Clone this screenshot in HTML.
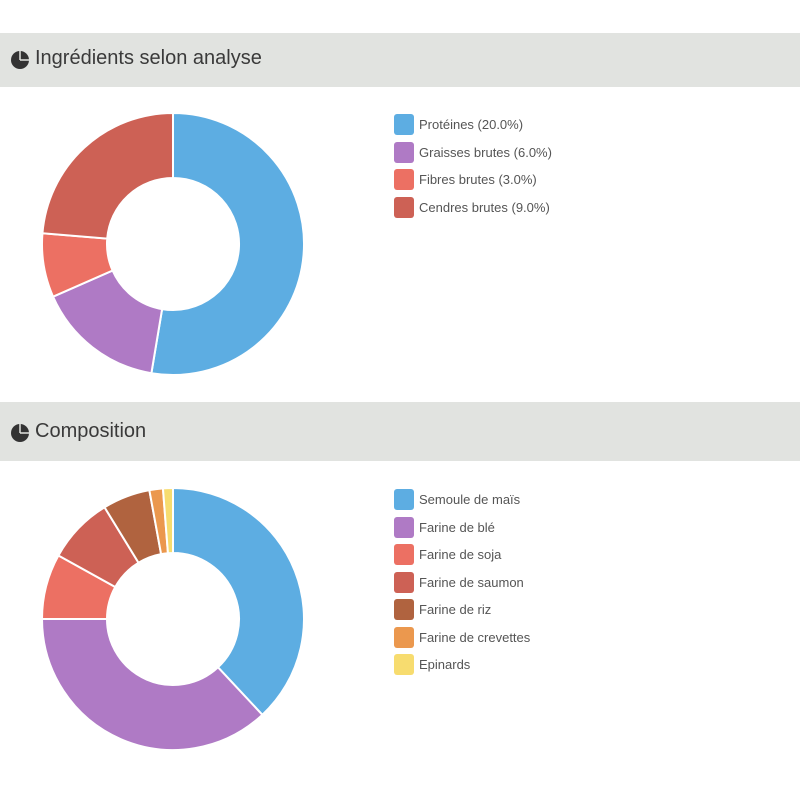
<!DOCTYPE html>
<html><head><meta charset="utf-8"><style>
body{margin:0;background:#fff;width:800px;height:800px;position:relative;overflow:hidden;font-family:"Liberation Sans",sans-serif}
.band{position:absolute;left:0;width:800px;background:#e1e3e0;color:#3a3a3a;font-size:20px}
.band span{position:absolute;left:35px;top:14px;white-space:nowrap}
.band svg{position:absolute;left:10px;top:17px}
.leg{position:absolute;left:394px;font-size:13px;color:#555}
.leg div{height:27.5px;position:relative;width:300px}
.leg i{position:absolute;left:0;top:0;width:20px;height:21px;border-radius:3px}
.leg b{font-weight:normal;position:absolute;left:25px;top:3px;white-space:nowrap}
</style></head><body>
<div class="band" style="top:33px;height:54px"><svg width="20" height="20" viewBox="0 0 20 20"><circle cx="10" cy="10" r="9" fill="#333"/><path d="M10 10 L10 1 M10 10 L19 10" stroke="#e1e3e0" stroke-width="1.5"/></svg><span>Ingrédients selon analyse</span></div>
<div class="band" style="top:402px;height:59px"><svg width="20" height="20" viewBox="0 0 20 20" style="top:21px"><circle cx="10" cy="10" r="9" fill="#333"/><path d="M10 10 L10 1 M10 10 L19 10" stroke="#e1e3e0" stroke-width="1.5"/></svg><span style="top:18px">Composition</span></div>
<svg id="c" width="800" height="800" style="position:absolute;left:0;top:0"></svg>
<div class="leg" style="top:114px">
<div><i style="background:#5dade2"></i><b>Protéines (20.0%)</b></div>
<div><i style="background:#af7ac5"></i><b>Graisses brutes (6.0%)</b></div>
<div><i style="background:#ec7063"></i><b>Fibres brutes (3.0%)</b></div>
<div><i style="background:#cd6155"></i><b>Cendres brutes (9.0%)</b></div>
</div>
<div class="leg" style="top:489px">
<div><i style="background:#5dade2"></i><b>Semoule de maïs</b></div>
<div><i style="background:#af7ac5"></i><b>Farine de blé</b></div>
<div><i style="background:#ec7063"></i><b>Farine de soja</b></div>
<div><i style="background:#cd6155"></i><b>Farine de saumon</b></div>
<div><i style="background:#b0633f"></i><b>Farine de riz</b></div>
<div><i style="background:#eb984e"></i><b>Farine de crevettes</b></div>
<div><i style="background:#f7dc6f"></i><b>Epinards</b></div>
</div>
<script>
var s=document.getElementById('c'),h='';
function donut(cx,cy,R,r,segs){var a0=0;segs.forEach(function(g){var a1=g[0];
function p(rr,a){var t=(a-90)*Math.PI/180;return (cx+rr*Math.cos(t)).toFixed(2)+' '+(cy+rr*Math.sin(t)).toFixed(2);}
var L=(a1-a0)>180?1:0;
h+='<path d="M'+p(R,a0)+' A'+R+' '+R+' 0 '+L+' 1 '+p(R,a1)+' L'+p(r,a1)+' A'+r+' '+r+' 0 '+L+' 0 '+p(r,a0)+' Z" fill="'+g[1]+'" stroke="#fff" stroke-width="2"/>';a0=a1;});}
donut(173,244,131,66,[[189.5,'#5dade2'],[246.3,'#af7ac5'],[274.7,'#ec7063'],[360,'#cd6155']]);
donut(173,619,131,66,[[137,'#5dade2'],[270,'#af7ac5'],[299,'#ec7063'],[328.5,'#cd6155'],[349.6,'#b0633f'],[355.6,'#eb984e'],[360,'#f7dc6f']]);
s.innerHTML=h;
</script>
</body></html>
